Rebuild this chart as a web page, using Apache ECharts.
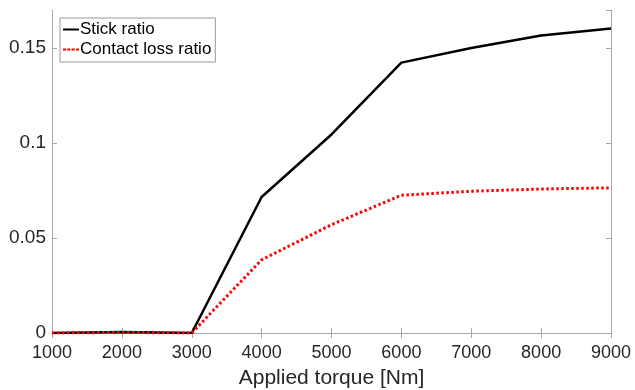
<!DOCTYPE html>
<html>
<head>
<meta charset="utf-8">
<script src="https://cdn.jsdelivr.net/npm/echarts@6/dist/echarts.min.js"></script>
<style>
html, body { margin: 0; padding: 0; background: #fff; }
#main { width: 635px; height: 390px; }
</style>
</head>
<body>
<div id="main"></div>
<script>
// 数据
var torque = [1000, 2000, 3000, 4000, 5000, 6000, 7000, 8000, 9000];
var stickRatio = [0, 0.0005, 0, 0.0716, 0.1045, 0.1423, 0.150, 0.1566, 0.1603];
var contactLossRatio = [0, 0.0003, 0, 0.0385, 0.057, 0.0725, 0.0746, 0.0758, 0.0764];
var xTicks = [1000, 2000, 3000, 4000, 5000, 6000, 7000, 8000, 9000];
var yTicks = [0, 0.05, 0.1, 0.15];

var chart = echarts.init(document.getElementById('main'));

function pairs(xs, ys) {
	var out = [];
	for (var i = 0; i < xs.length; i++) {
		out.push([xs[i], ys[i]]);
	}
	return out;
}

var axisColor = '#a6a6a6';
var labelColor = '#262626';
var fontName = 'Liberation Sans, Arial, sans-serif';

chart.setOption({
	animation : false,
	backgroundColor : '#fff',
	grid : {
		left : 52,
		right : 24,
		top : 10,
		bottom : 57,
		outerBoundsMode : 'none',
		containLabel : false
	},
	legend : {
		left : 60,
		top : 18,
		orient : 'vertical',
		itemGap : 3,
		itemWidth : 16,
		itemHeight : 8,
		padding : [3, 4, 4, 3],
		borderColor : '#999',
		borderWidth : 1,
		backgroundColor : '#fff',
		textStyle : {
			fontFamily : fontName,
			fontSize : 17,
			color : '#000',
			padding : [0, 0, 0, -4]
		},
		data : [
			{ name : 'Stick ratio', icon : 'path://M0,3L16,3L16,5L0,5Z' },
			{ name : 'Contact loss ratio', icon : 'path://M0,3L3,3L3,5L0,5ZM4,3L7,3L7,5L4,5ZM8,3L11,3L11,5L8,5ZM12,3L15,3L15,5L12,5Z' }
		]
	},
	xAxis : [ {
		type : 'value',
		min : 1000,
		max : 9000,
		interval : 1000,
		name : 'Applied torque [Nm]',
		nameLocation : 'middle',
		nameGap : 35,
		nameTextStyle : {
			fontFamily : fontName,
			fontSize : 21,
			color : labelColor
		},
		axisLine : { lineStyle : { color : axisColor, width : 1 } },
		axisTick : { inside : true, length : 5, lineStyle : { color : axisColor } },
		axisLabel : {
			fontFamily : fontName,
			fontSize : 18,
			color : labelColor,
			margin : 11,
			formatter : function(v) {
				return xTicks.indexOf(v) >= 0 ? String(v) : '';
			}
		},
		splitLine : { show : false }
	}, {
		type : 'value',
		position : 'top',
		min : 1000,
		max : 9000,
		interval : 1000,
		axisLine : { lineStyle : { color : axisColor, width : 1 } },
		axisTick : { inside : true, length : 5, lineStyle : { color : axisColor } },
		axisLabel : { show : false },
		splitLine : { show : false }
	} ],
	yAxis : [ {
		type : 'value',
		min : 0,
		max : 0.17,
		interval : 0.05,
		axisLine : { show : true, lineStyle : { color : axisColor, width : 1 } },
		axisTick : { show : true, inside : true, length : 5, lineStyle : { color : axisColor } },
		axisLabel : {
			fontFamily : fontName,
			fontSize : 19,
			color : labelColor,
			margin : 6,
			showMaxLabel : false,
			formatter : function(v) {
				var r = Math.round(v * 100) / 100;
				return yTicks.indexOf(r) >= 0 ? String(r) : '';
			}
		},
		splitLine : { show : false }
	}, {
		type : 'value',
		position : 'right',
		min : 0,
		max : 0.17,
		interval : 0.05,
		axisLine : { show : true, lineStyle : { color : axisColor, width : 1 } },
		axisTick : { show : true, inside : true, length : 5, lineStyle : { color : axisColor } },
		axisLabel : { show : false },
		splitLine : { show : false }
	} ],
	series : [ {
		name : 'Stick ratio',
		type : 'line',
		data : pairs(torque, stickRatio),
		showSymbol : false,
		symbol : 'none',
		itemStyle : { color : '#000' },
		lineStyle : { color : '#000', width : 2.5 },
		z : 3
	}, {
		name : 'Contact loss ratio',
		type : 'line',
		data : pairs(torque, contactLossRatio),
		showSymbol : false,
		symbol : 'none',
		itemStyle : { color : '#ff0000' },
		lineStyle : { color : '#ff0000', width : 3, type : [2.5, 2.5] },
		z : 4
	} ]
});
</script>
</body>
</html>
